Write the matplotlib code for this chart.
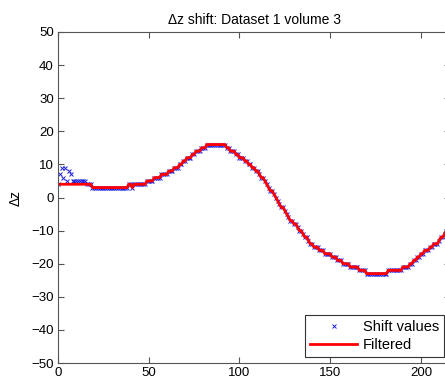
import matplotlib
matplotlib.use('Agg')
import matplotlib.pyplot as plt
import numpy as np

plt.rcParams['font.family'] = ['Liberation Sans', 'DejaVu Sans']

# filtered dz shift, one value per frame index 0..214
filtered = [
    4, 4, 4, 4, 4, 4, 4, 4, 4, 4, 4, 4, 4, 4, 4, 4, 4, 4, 4,
    3, 3, 3, 3, 3, 3, 3, 3, 3, 3, 3, 3, 3, 3, 3, 3, 3, 3, 3, 3,
    4, 4, 3, 4, 4, 4, 4, 4, 4, 4,
    5, 5, 5, 5, 6, 6, 6, 6, 7, 7, 7, 7, 8, 8, 8, 9, 9, 9,
    10, 10, 11, 11, 12, 12, 12, 13, 13, 14, 14, 14, 15, 15, 15,
    16, 16, 16, 16, 16, 16, 16, 16, 16, 16, 16,
    15, 15, 14, 14, 14, 13, 13, 12, 12, 12, 11, 11, 10, 10, 9, 9,
    8, 8, 7, 6, 6, 5, 4, 3, 2, 2, 1, 0, -1, -2, -3, -3, -4, -5,
    -6, -7, -7, -8, -8, -9, -10, -10, -11, -12, -12, -13, -14, -14,
    -15, -15, -15, -16, -16, -16, -17, -17, -17, -17, -18, -18, -18,
    -19, -19, -19, -20, -20, -20, -20, -21, -21, -21, -21, -21, -22,
    -22, -22, -22, -23, -23, -23, -23, -23, -23, -23, -23, -23, -23,
    -23, -23, -22, -22, -22, -22, -22, -22, -22, -22, -21, -21, -21,
    -21, -20, -20, -19, -19, -18, -18, -17, -17, -16, -16, -16, -15,
    -15, -14, -14, -14, -13, -12, -12, -11, -10,
]
frames = np.arange(len(filtered))

# raw shift values differ from the filtered ones only at the start
raw_start = [4, 7, 9, 6, 9, 5, 8, 7, 5, 5, 5, 5, 5, 5, 5, 5]
shift = list(raw_start) + filtered[len(raw_start):]

fig = plt.figure(figsize=(4.45, 3.85), dpi=100)
ax = fig.add_axes([58 / 445, 22 / 385, 392 / 445, 331 / 385])

ax.plot(frames, shift, 'x', color='#2020e0', markersize=2.6, mew=0.7,
        label='Shift values')
ax.plot(frames, filtered, '-', color='#ff0000', lw=2, label='Filtered')

ax.set_xlim(0, 216)
ax.set_ylim(-50, 50)
ax.set_xticks([0, 50, 100, 150, 200])
ax.set_yticks(np.arange(-50, 51, 10))
ax.tick_params(direction='in', length=4, labelsize=9.5, top=True, right=True,
               color='#555555', pad=3)
for s in ax.spines.values():
    s.set_color('#555555')
    s.set_linewidth(0.8)

ax.set_title('\u0394z shift: Dataset 1 volume 3', fontsize=10, pad=6)
ax.set_ylabel('\u0394z', fontsize=10, labelpad=6)

leg = ax.legend(loc='lower right', fontsize=10.5, frameon=True, fancybox=False,
                framealpha=1, edgecolor='#333333', borderpad=0.35,
                handlelength=3.2, handletextpad=0.4, labelspacing=0.3,
                borderaxespad=0.4, bbox_to_anchor=(1.0, 0.0))
leg.get_frame().set_linewidth(0.8)

fig.savefig('out.png', dpi=100)
